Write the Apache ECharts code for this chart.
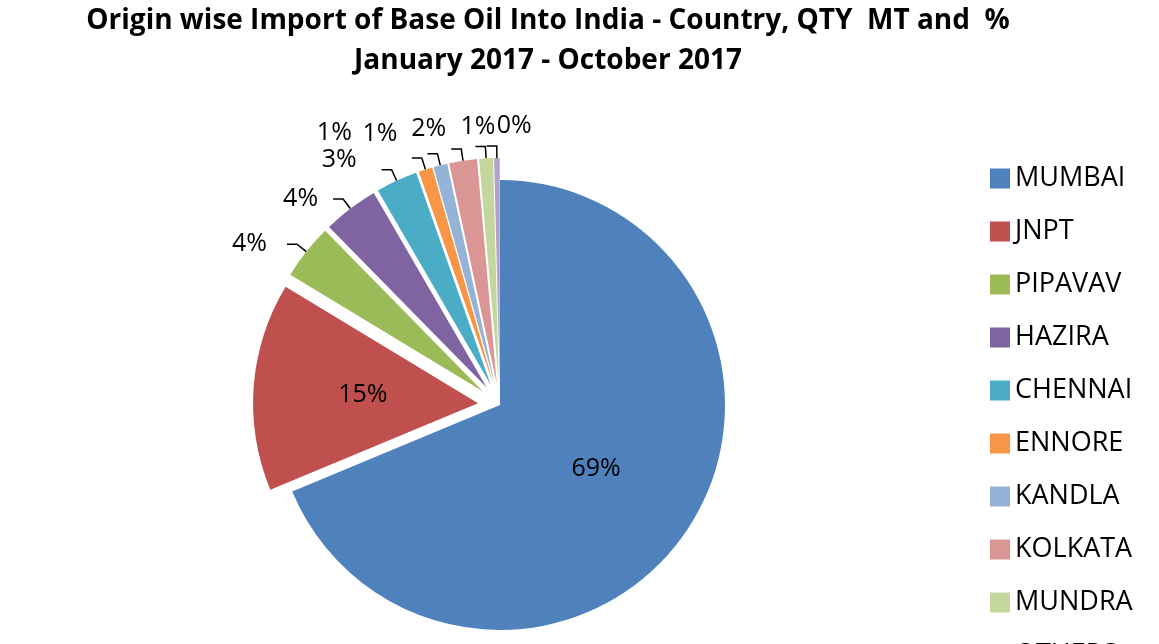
<!DOCTYPE html>
<html><head><meta charset="utf-8">
<script src="https://cdn.jsdelivr.net/npm/echarts@6/dist/echarts.min.js"></script>
<style>html,body{margin:0;padding:0;background:#fff}#c{width:1159px;height:644px}</style>
</head><body><div id="c"></div>
<script>
const categories = ['MUMBAI','JNPT','PIPAVAV','HAZIRA','CHENNAI','ENNORE','KANDLA','KOLKATA','MUNDRA','OTHERS'];
const values = [69, 15, 4, 4, 3, 1, 1, 2, 1, 0.4];
const colors = ['#4F81BD','#C0504D','#9BBB59','#8064A2','#4BACC6','#F79646','#95B3D7','#D99694','#C3D69B','#B3A2C7'];
const chart = echarts.init(document.getElementById('c'));
const shiftX = [0,0,-15,-10,-20,-55,-25,0,25,50];
const shiftY = [0,0,0,0,-10,-25,-20,-20,-20,-20];
chart.setOption({
  title:{text:'Origin wise Import of Base Oil Into India - Country, QTY  MT and  %\nJanuary 2017 - October 2017',left:543,top:-4,textAlign:'center',
    textStyle:{fontFamily:'Open Sans',fontWeight:'bold',fontSize:28,lineHeight:40,color:'#000'}},
  legend:{type:'plain',orient:'vertical',left:985,top:160,height:1200,itemWidth:20,itemHeight:20,itemGap:26,icon:'rect',
    textStyle:{fontFamily:'Open Sans',fontSize:27,color:'#000'}},
  series:[{type:'pie',center:[500,405],radius:[0,225],startAngle:90,percentPrecision:0,
    avoidLabelOverlap:false,
    selectedMode:'multiple',selectedOffset:22,
    label:{formatter:'{d}%',fontFamily:'Open Sans',fontSize:25,color:'#000'},
    labelLine:{lineStyle:{color:'#000',width:1.5},length:12,length2:10},
    labelLayout:function(p){
      const i=p.dataIndex;
      if(i<2) return {};
      return {dx:shiftX[i], dy:shiftY[i]};
    },
    data:categories.map((n,i)=>({name:n,value:values[i],selected:i>0,itemStyle:{color:colors[i]},
      label:i<2?{position:'inside'}:{}}))
  }]
});
</script></body></html>
